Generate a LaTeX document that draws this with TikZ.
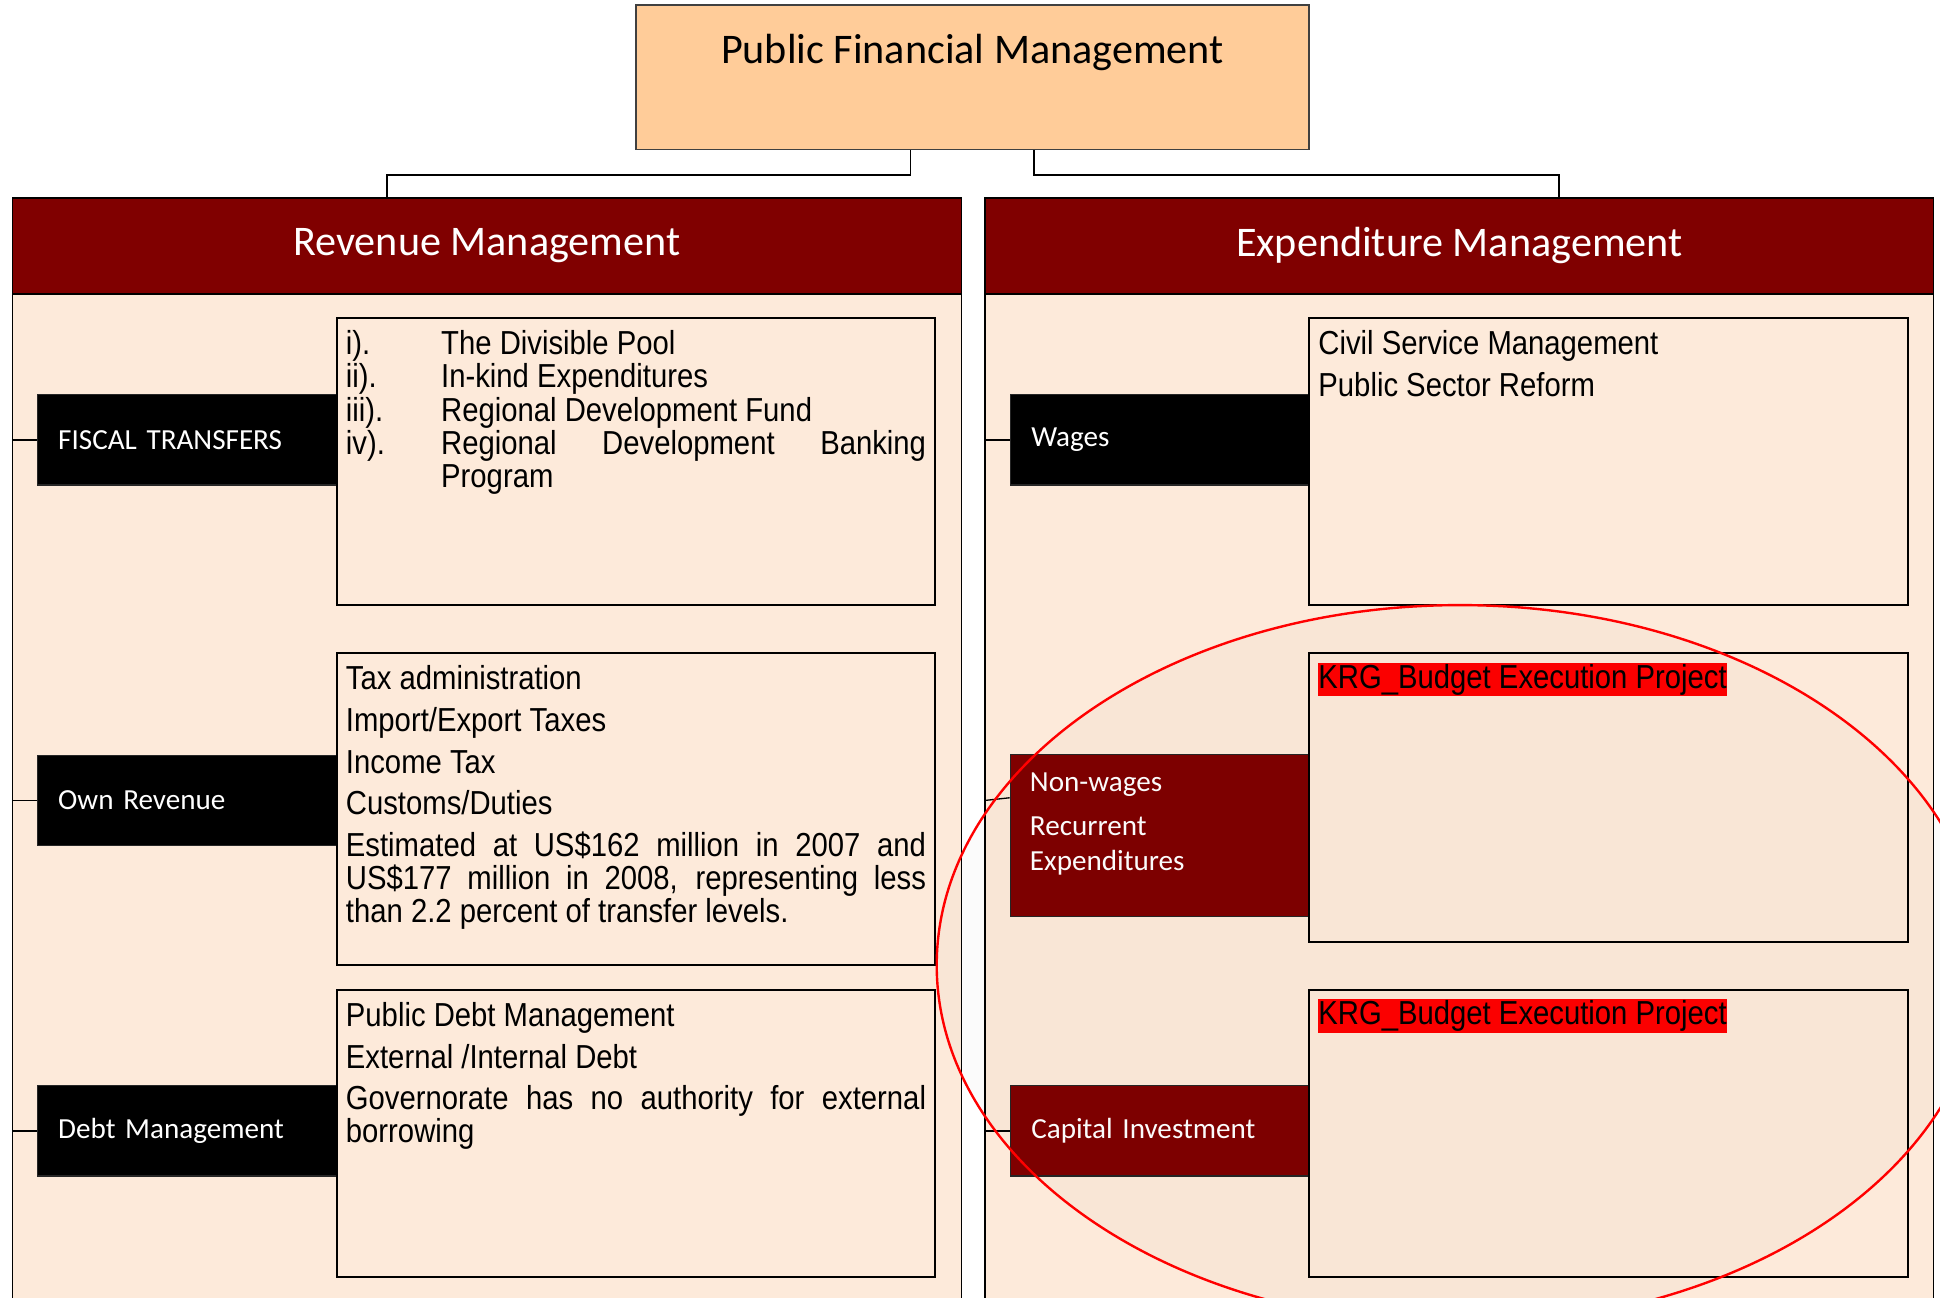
\documentclass[tikz,border=0pt]{standalone}
\usepackage{fontspec}
\usepackage{xcolor}
\usetikzlibrary{calc}
\setmainfont{Carlito}
\newfontfamily\narrowfont[FakeStretch=0.88]{Liberation Sans}
\definecolor{pfmpeach}{HTML}{FFCC99}
\definecolor{panelred}{HTML}{800000}
\definecolor{panelbg}{HTML}{FDEADA}
\definecolor{markred}{HTML}{FF0000}
\newcommand{\listitem}[2]{\hangindent=1.54cm\hangafter=1\noindent\makebox[1.54cm][l]{#1}#2\par}
\newcommand{\krgmark}{{\setlength{\fboxsep}{0pt}\colorbox{markred}{\rule[-3.7pt]{0pt}{15.5pt}KRG\_Budget Execution Project}}}

\begin{document}
\begin{tikzpicture}[x=0.02cm,y=-0.02cm,
  every node/.style={inner sep=0pt},
  head/.style={draw=black,line width=0.6pt,fill=panelred,text=white,
    font=\fontsize{19.4}{23}\selectfont,minimum width=15.34cm,minimum height=1.54cm},
  body/.style={draw=black,line width=0.6pt,fill=panelbg,minimum width=15.34cm,minimum height=16.8cm},
  tag/.style={draw=black!85,line width=0.5pt,fill=black,text=white,
    font=\fontsize{13.4}{16.1}\selectfont,minimum width=4.84cm,minimum height=1.46cm,
    text width=4.16cm,align=left},
  redtag/.style={tag,fill=panelred},
  infobox/.style={draw=black,line width=0.9pt,minimum width=9.68cm,minimum height=4.64cm},
  infotext/.style={anchor=north west,text width=9.38cm,align=justify,
    font=\narrowfont\fontsize{15.3}{15.3}\selectfont,
    execute at begin node={\parindent=0pt\parskip=3.85pt\tolerance=10000\hyphenpenalty=10000}},
  link/.style={draw=black,line width=0.8pt}]
\useasboundingbox (0,0) rectangle (1568,1049);
\clip (0,0) rectangle (1568,1049);

% top of the tree
\node[draw=black!75,line width=0.6pt,fill=pfmpeach,minimum width=10.88cm,minimum height=2.34cm] (pfm) at (786,62.5) {};
\node[font=\fontsize{19.4}{23}\selectfont,anchor=base] (pfmtitle) at ($(pfm.north)+(0,47.5)$) {Public Financial Management};

% the two panels
\node[head] (revhead) at (393.5,198.5) {Revenue Management};
\node[body,anchor=north] (revbody) at (revhead.south) {};
\node[head] (exphead) at (1179.5,198.5) {Expenditure Management};
\node[body,anchor=north] (expbody) at (exphead.south) {};

\draw[link] ($(pfm.south)+(-50,0)$) -- ++(0,20) -| ($(revhead.north)+(-80.5,0)$);
\draw[link] ($(pfm.south)+(50,0)$) -- ++(0,20) -| ($(exphead.north)+(80.5,0)$);

% revenue side
\node[tag] (fiscal) at (151,355.5) {FISCAL TRANSFERS};
\node[tag] (ownrev) at (151,647) {Own Revenue};
\node[tag] (debt) at (151,914) {Debt Management};

\node[infobox] (pool) at (514,373) {};
\node[infobox,minimum height=5.04cm] (taxes) at (514,654) {};
\node[infobox] (debtbox) at (514,916) {};

\node[infotext] (pooltext) at ($(pool.north west)+(8,10.5)$) {\parskip=0pt
\listitem{i).}{The Divisible Pool}
\listitem{ii).}{In-kind Expenditures}
\listitem{iii).}{Regional Development Fund}
\listitem{iv).}{Regional Development Banking Program}};
\node[infotext] (taxtext) at ($(taxes.north west)+(8,10.5)$) {Tax administration\par
Import/Export Taxes\par
Income Tax\par
Customs/Duties\par
Estimated at US\$162 million in 2007 and US\$177 million in 2008, representing less than 2.2 percent of transfer levels.};
\node[infotext] (debttext) at ($(debtbox.north west)+(8,10.5)$) {Public Debt Management\par
External /Internal Debt\par
Governorate has no authority for external borrowing};

\draw[link,line width=0.6pt] (revbody.west |- fiscal.west) -- (fiscal.west);
\draw[link,line width=0.6pt] (revbody.west |- ownrev.west) -- (ownrev.west);
\draw[link,line width=0.6pt] (revbody.west |- debt.west) -- (debt.west);

% expenditure side
\node[tag] (wages) at (937.5,355.5) {Wages};
\node[redtag,minimum height=2.62cm] (nonwage) at (937.5,675.5) {};
\node[redtag] (capital) at (937.5,914) {Capital Investment};
\node[text=white,font=\fontsize{13.4}{16.1}\selectfont,align=left,anchor=north west] (nonwagetext)
  at ($(nonwage.north west)+(16,15)$) {Non-wages\\[4pt]Recurrent\\Expenditures};

\node[infobox] (civil) at (1300,373) {};
\node[infobox,minimum height=4.66cm] (krgrec) at (1300,644.5) {};
\node[infobox] (krgcap) at (1300,916) {};

\node[infotext] (civiltext) at ($(civil.north west)+(8,10.5)$) {Civil Service Management\par
Public Sector Reform};
\node[infotext] (krgrectext) at ($(krgrec.north west)+(8,8)$) {\krgmark};
\node[infotext] (krgcaptext) at ($(krgcap.north west)+(8,8)$) {\krgmark};

\draw[link,line width=0.6pt] (expbody.west |- wages.west) -- (wages.west);
\draw[link,line width=0.6pt] (expbody.west |- ownrev.west) -- ($(nonwage.north west)!0.267!(nonwage.south west)$);
\draw[link,line width=0.6pt] (expbody.west |- capital.west) -- (capital.west);

% ring round the KRG project boxes
\draw[markred,line width=1.1pt,fill=black,fill opacity=0.015] (1180,780) ellipse [x radius=8.46cm,y radius=5.82cm];
\end{tikzpicture}
\end{document}
